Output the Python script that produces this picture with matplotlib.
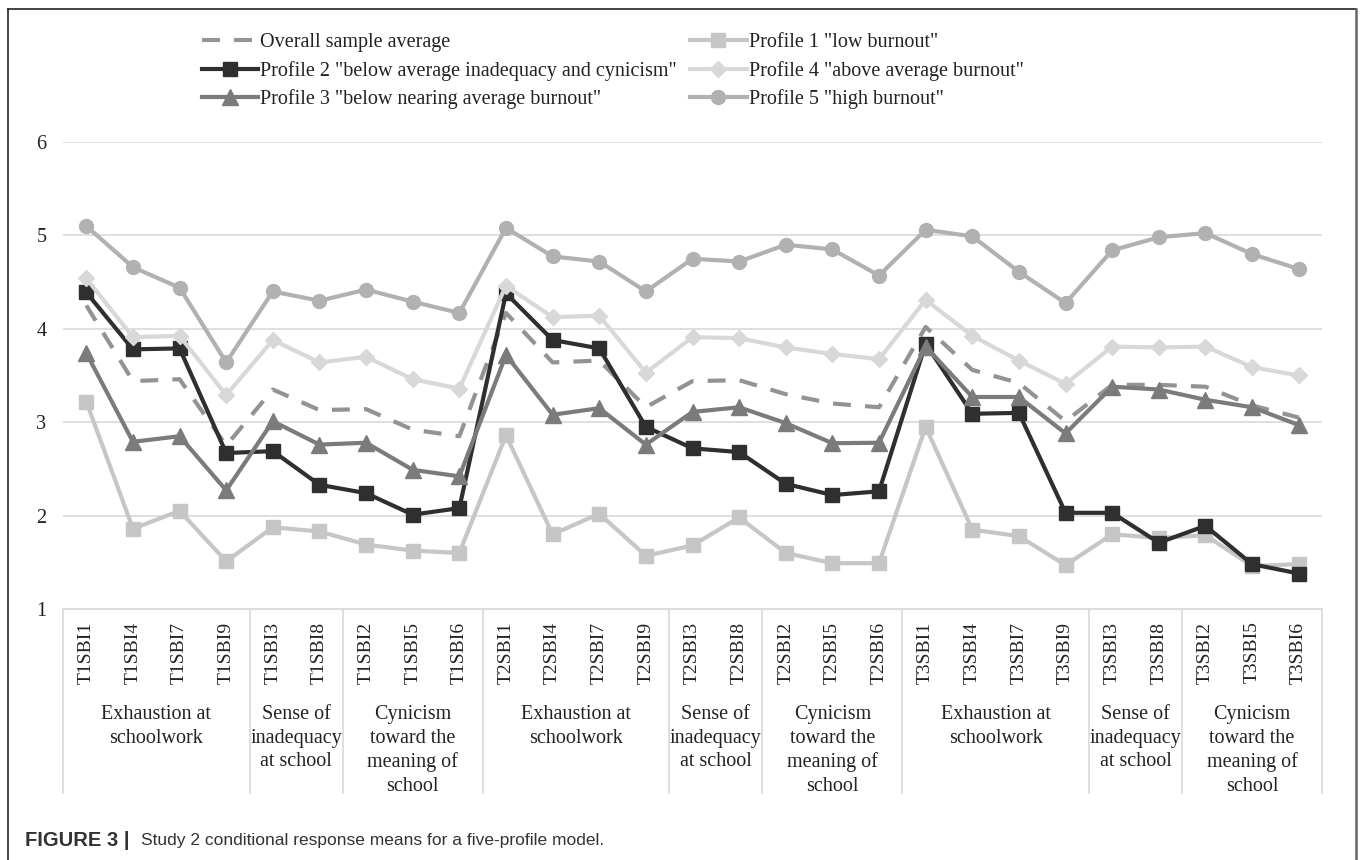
import matplotlib
matplotlib.use("Agg")
import matplotlib.pyplot as plt
from matplotlib.lines import Line2D
import matplotlib.transforms as mtransforms

# ---------------- data ----------------
items = ["T1SBI1", "T1SBI4", "T1SBI7", "T1SBI9", "T1SBI3", "T1SBI8", "T1SBI2", "T1SBI5", "T1SBI6",
         "T2SBI1", "T2SBI4", "T2SBI7", "T2SBI9", "T2SBI3", "T2SBI8", "T2SBI2", "T2SBI5", "T2SBI6",
         "T3SBI1", "T3SBI4", "T3SBI7", "T3SBI9", "T3SBI3", "T3SBI8", "T3SBI2", "T3SBI5", "T3SBI6"]

groups = ["Exhaustion at\nschoolwork", "Sense of\ninadequacy\nat school", "Cynicism\ntoward the\nmeaning of\nschool"] * 3
group_sizes = [4, 2, 3] * 3

overall = [4.25, 3.44, 3.46, 2.75, 3.35, 3.13, 3.14, 2.92, 2.85,
           4.17, 3.64, 3.66, 3.16, 3.44, 3.45, 3.30, 3.20, 3.16,
           4.02, 3.56, 3.42, 3.01, 3.40, 3.40, 3.38, 3.18, 3.05]
profile1 = [3.22, 1.86, 2.05, 1.51, 1.875, 1.83, 1.69, 1.625, 1.60,
            2.86, 1.80, 2.02, 1.57, 1.68, 1.98, 1.60, 1.49, 1.49,
            2.95, 1.85, 1.78, 1.47, 1.80, 1.76, 1.79, 1.46, 1.48]
profile2 = [4.39, 3.78, 3.79, 2.67, 2.69, 2.33, 2.24, 2.01, 2.08,
            4.38, 3.88, 3.79, 2.95, 2.72, 2.68, 2.34, 2.22, 2.26,
            3.84, 3.09, 3.10, 2.03, 2.03, 1.71, 1.89, 1.48, 1.38]
profile3 = [3.74, 2.79, 2.85, 2.27, 3.01, 2.76, 2.78, 2.49, 2.42,
            3.72, 3.08, 3.15, 2.76, 3.11, 3.16, 2.99, 2.775, 2.78,
            3.81, 3.27, 3.27, 2.88, 3.38, 3.35, 3.24, 3.16, 2.97]
profile4 = [4.54, 3.91, 3.925, 3.29, 3.88, 3.64, 3.70, 3.46, 3.36,
            4.46, 4.125, 4.14, 3.53, 3.91, 3.90, 3.80, 3.73, 3.675,
            4.31, 3.925, 3.66, 3.41, 3.81, 3.80, 3.81, 3.59, 3.50]
profile5 = [5.10, 4.66, 4.44, 3.64, 4.40, 4.30, 4.42, 4.29, 4.17,
            5.08, 4.775, 4.72, 4.40, 4.75, 4.72, 4.90, 4.85, 4.57,
            5.06, 4.99, 4.61, 4.275, 4.84, 4.98, 5.025, 4.80, 4.64]

labels = {
    "overall": "Overall sample average",
    "p1": 'Profile 1 "low burnout"',
    "p2": 'Profile 2 "below average inadequacy and cynicism"',
    "p3": 'Profile 3 "below nearing average burnout"',
    "p4": 'Profile 4 "above average burnout"',
    "p5": 'Profile 5 "high burnout"',
}
y_ticks = [1, 2, 3, 4, 5, 6]

# ---------------- figure ----------------
plt.rcParams['font.family'] = ['Liberation Serif', 'DejaVu Serif']
W, H = 1360, 860
fig = plt.figure(figsize=(W / 100, H / 100), dpi=100)
fig.patch.set_facecolor("white")

L, R, T, B = 63, 1322, 142, 609
ax = fig.add_axes([L / W, 1 - B / H, (R - L) / W, (B - T) / H])

x = [i + 0.5 for i in range(len(items))]
grid_c = "#d9d9d9"

h_over, = ax.plot(x, overall, color="#939393", lw=3.0, dashes=(4.3, 3.4),
                  dash_capstyle="butt", zorder=2, label=labels["overall"])
h1, = ax.plot(x, profile1, color="#c6c6c6", lw=3.0, marker="s", ms=10.5, zorder=3,
              label=labels["p1"])
h2, = ax.plot(x, profile2, color="#2f2f2f", lw=3.0, marker="s", ms=10.5, zorder=4,
              label=labels["p2"])
h4, = ax.plot(x, profile4, color="#d8d8d8", lw=3.0, marker="D", ms=8, zorder=5,
              label=labels["p4"])
h3, = ax.plot(x, profile3, color="#7b7b7b", lw=3.0, marker="^", ms=11, zorder=6,
              label=labels["p3"])
h5, = ax.plot(x, profile5, color="#b1b1b2", lw=3.0, marker="o", ms=10, zorder=7,
              label=labels["p5"])

ax.set_xlim(0, len(items))
ax.set_ylim(1, 6)
ax.set_yticks(y_ticks)
ax.set_yticklabels([str(v) for v in y_ticks], fontsize=14.5, color="#222222")
ax.tick_params(axis="y", length=0, pad=12)
ax.set_xticks(x)
ax.set_xticklabels(items, rotation=90, fontsize=14, color="#222222")
ax.tick_params(axis="x", length=0, pad=9)
ax.grid(axis="y", color=grid_c, lw=1.2, zorder=0)
for s in ["top", "right", "left"]:
    ax.spines[s].set_visible(False)
ax.spines["bottom"].set_color(grid_c)
ax.spines["bottom"].set_linewidth(1.2)

# category separators and group labels
trans = mtransforms.blended_transform_factory(ax.transData, fig.transFigure)
y_top = 1 - B / H
y_bot = 1 - 793 / H
pos = 0
bounds = [0]
for g, n in zip(groups, group_sizes):
    ax.text(pos + n / 2, 1 - 705 / H, g, transform=trans, ha="center", va="top",
            fontsize=14.5, linespacing=1.33, color="#222222")
    pos += n
    bounds.append(pos)
for b in bounds:
    ax.add_line(Line2D([b, b], [y_top, y_bot], transform=trans, color=grid_c,
                       lw=1.2, clip_on=False))

# legend
handles = [h_over, h2, h3, h1, h4, h5]
leg = fig.legend(handles=handles, labels=[h.get_label() for h in handles],
                 loc="upper left", bbox_to_anchor=(202 / W, 1 - 33 / H), ncol=2,
                 frameon=False, fontsize=14.5, handlelength=2.8, handletextpad=0.1,
                 columnspacing=0.65, labelspacing=0.43, borderpad=0, borderaxespad=0)
for t in leg.get_texts():
    t.set_color("#222222")

# border around figure
fig.add_artist(Line2D([8 / W, 1356 / W], [1 - 9 / H, 1 - 9 / H], color="#222222", lw=1.2))
fig.add_artist(Line2D([8 / W, 8 / W], [1 - 9 / H, 0], color="#222222", lw=1.2))
fig.add_artist(Line2D([1356 / W, 1356 / W], [1 - 9 / H, 0], color="#666666", lw=1.8))

# caption
cap_y = 1 - 840 / H
fig.text(25 / W, cap_y, "FIGURE 3 |", fontsize=14.5, fontweight="bold",
         family=["Liberation Sans", "DejaVu Sans"], va="center", ha="left", color="#333333")
fig.text(141 / W, cap_y, "Study 2 conditional response means for a five-profile model.",
         fontsize=12.5, family=["Liberation Sans", "DejaVu Sans"], va="center", ha="left",
         color="#333333")

fig.savefig("out.png", dpi=100, facecolor="white")
